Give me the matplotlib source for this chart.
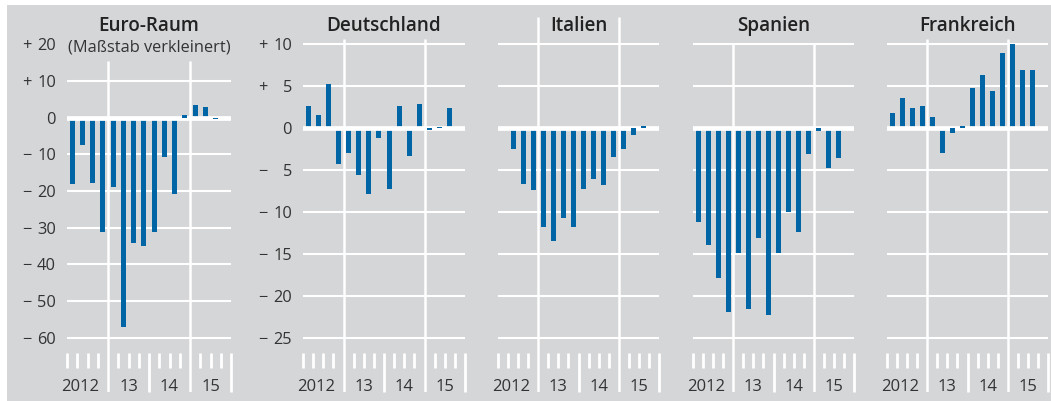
import numpy as np
import matplotlib.pyplot as plt
from matplotlib.patches import Rectangle
from matplotlib.transforms import blended_transform_factory

plt.rcParams['font.family'] = ['Open Sans', 'DejaVu Sans']

# data: quarterly values 2012 Q1 .. 2015 Q3
titles = ["Euro-Raum", "Deutschland", "Italien", "Spanien", "Frankreich"]
euro = [-18.1, -7.4, -17.9, -31.3, -18.8, -57.1, -34.3, -35.1, -31.3, -10.6, -20.8, 0.6, 3.4, 3.0, -0.3]
deutschland = [2.7, 1.6, 5.3, -4.2, -2.9, -5.5, -7.85, -1.1, -7.25, 2.7, -3.3, 2.9, -0.2, 0.1, 2.4]
italien = [np.nan, -2.5, -6.6, -7.4, -11.7, -13.4, -10.7, -11.7, -7.2, -6.0, -6.8, -3.4, -2.5, -0.8, 0.3]
spanien = [-11.2, -13.9, -17.8, -21.9, -14.9, -21.5, -13.1, -22.2, -14.9, -10.0, -12.4, -3.1, -0.3, -4.7, -3.5]
frankreich = [1.8, 3.6, 2.4, 2.7, 1.3, -2.9, -0.6, 0.3, 4.8, 6.4, 4.5, 9.0, 10.0, 6.9, 6.9]
series = [euro, deutschland, italien, spanien, frankreich]

years = ["2012", "13", "14", "15"]
euro_ticks = [20, 10, 0, -10, -20, -30, -40, -50, -60]
euro_grid = [10, 0, -10, -20, -30, -40, -50, -60]
country_ticks = [10, 5, 0, -5, -10, -15, -20, -25]

GREY = "#d5d6d8"
BLUE = "#0065a4"
TXT = "#333333"

W, H, DPI = 1051, 401, 100
AX_TOP, AX_BOT = 10, 392
panel_x = [(67, 231), (303, 465), (498, 659), (693, 854), (887, 1048)]
vline_top = [61, 39, 17, 43, 39]


def ylimits(v1, y1, v2, y2):
    # value range of an axes spanning AX_TOP..AX_BOT px, given two reference grid positions
    s = (y2 - y1) / (v1 - v2)
    return v2 - (AX_BOT - y2) / s, v1 + (y1 - AX_TOP) / s


def frac(ypx):
    return (AX_BOT - ypx) / (AX_BOT - AX_TOP)


fig = plt.figure(figsize=(W / DPI, H / DPI), dpi=DPI, facecolor='white')
fig.patches.append(Rectangle((7 / W, 0), 1 - 7 / W, 1 - 5 / H, transform=fig.transFigure,
                             facecolor=GREY, edgecolor='none', zorder=-10))

for i, (title, vals) in enumerate(zip(titles, series)):
    x0, x1 = panel_x[i]
    ax = fig.add_axes([x0 / W, 1 - AX_BOT / H, (x1 - x0) / W, (AX_BOT - AX_TOP) / H])
    ax.patch.set_visible(False)
    for sp in ax.spines.values():
        sp.set_visible(False)

    if i == 0:
        ax.set_ylim(*ylimits(10, 81, -60, 337.7))
        ticks, grid = euro_ticks, euro_grid
    else:
        ax.set_ylim(*ylimits(10, 44.3, -25, 338.3))
        ticks, grid = country_ticks, country_ticks
    ax.set_xlim(0, 16)
    ax.set_xticks([])

    # horizontal grid + heavy zero line
    for g in grid:
        ax.axhline(g, color='white', lw=3.4 if g == 0 else 1.5, zorder=4 if g == 0 else 1)

    # year separators
    xt = ax.get_xaxis_transform()
    ax.vlines([4, 12], 0, frac(vline_top[i]), transform=xt, colors='white', lw=1.8, zorder=1)
    short = [q for q in range(16) if q % 4 != 0 or q == 0]
    ax.vlines(short, frac(368), frac(353), transform=xt, colors='white', lw=2, clip_on=False)
    ax.vlines([8, 16], 0, frac(353), transform=xt, colors='white', lw=2, clip_on=False)
    for k, lab in enumerate(years):
        cx = 4 * k + 2 - (0.68 if k == 0 else 0)
        ax.text(cx, frac(391), lab, transform=xt, ha='center', va='baseline', fontsize=12, color=TXT)

    # bars
    v = np.array(vals, dtype=float)
    x = np.arange(len(v)) + 0.5
    big = np.abs(v) >= 1
    ax.bar(x[big], v[big], width=0.5, color=BLUE, zorder=3)
    ax.bar(x[~big], v[~big], width=0.5, color=BLUE, zorder=5)

    # y tick labels: sign left, number right
    if i < 2:
        ax.set_yticks(ticks, [str(abs(t)) for t in ticks])
        ax.tick_params(axis='y', length=0, pad=8, labelsize=11.8, labelcolor=TXT)
        st = blended_transform_factory(fig.transFigure, ax.transData)
        for t in ticks:
            if t != 0:
                ax.text((x0 - 45) / W, t, "+" if t > 0 else "\u2212", transform=st,
                        ha='left', va='center_baseline', fontsize=11.8, color=TXT)
    else:
        ax.set_yticks([])

    tt = blended_transform_factory(ax.transData, fig.transFigure)
    ax.text(8, 1 - 31 / H, title, transform=tt, ha='center', va='baseline',
            fontsize=13.6, fontweight='semibold', color='#222222')
    if i == 0:
        ax.text(8, 1 - 51 / H, "(Maßstab verkleinert)", transform=tt, ha='center',
                va='baseline', fontsize=11.8, color=TXT)

fig.savefig("out.png", dpi=DPI, facecolor=fig.get_facecolor())
